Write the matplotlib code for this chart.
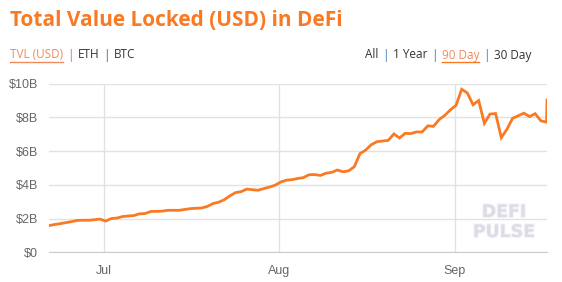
import matplotlib
matplotlib.use("Agg")
import matplotlib.pyplot as plt
import matplotlib.patheffects as pe
from matplotlib.lines import Line2D
import pandas as pd

# ---- data ----
tvl_billions = [
    1.58, 1.65, 1.70, 1.76, 1.82, 1.89, 1.90, 1.90, 1.93, 1.97,
    1.85, 2.00, 2.03, 2.12, 2.15, 2.18, 2.28, 2.30, 2.42, 2.43,
    2.44, 2.49, 2.49, 2.49, 2.54, 2.59, 2.61, 2.63, 2.72, 2.89,
    2.97, 3.12, 3.35, 3.54, 3.60, 3.75, 3.71, 3.68, 3.78, 3.87,
    3.98, 4.17, 4.28, 4.31, 4.38, 4.43, 4.60, 4.61, 4.56, 4.69,
    4.74, 4.88, 4.78, 4.83, 5.08, 5.85, 6.06, 6.38, 6.56, 6.60,
    6.64, 7.02, 6.78, 7.06, 7.04, 7.14, 7.14, 7.50, 7.47, 7.87,
    8.12, 8.45, 8.72, 9.67, 9.45, 8.75, 9.00, 7.65, 8.20, 8.23,
    6.80, 7.30, 7.95, 8.10, 8.25, 8.05, 8.22, 7.80, 7.72, 9.03,
]
dates = list(pd.date_range("2020-06-21 06:00", periods=89, freq="D")) + [pd.Timestamp("2020-09-17 08:00")]

y_ticks = [0, 2, 4, 6, 8, 10]
y_tick_labels = ["$0", "$2B", "$4B", "$6B", "$8B", "$10B"]
x_ticks = ["2020-07-01", "2020-08-01", "2020-09-01"]
x_tick_labels = ["Jul", "Aug", "Sep"]

title = "Total Value Locked (USD) in DeFi"
left_nav = ["TVL (USD)", "ETH", "BTC"]
right_nav = ["All", "1 Year", "90 Day", "30 Day"]

ORANGE = "#F97A22"
W, H = 562, 282

fig = plt.figure(figsize=(W / 100, H / 100), dpi=100)
fig.patch.set_facecolor("white")
ax = fig.add_axes([49 / W, 1 - 252.3 / H, (547 - 49) / W, (252.3 - 83.7) / H])

ax.plot(pd.to_datetime(dates), tvl_billions, color=ORANGE, lw=2.0, solid_joinstyle="miter", zorder=3)
ax.set_ylim(0, 10)
ax.set_xlim(pd.Timestamp(dates[0]), pd.Timestamp(dates[-1]))
ax.set_yticks(y_ticks)
ax.set_yticklabels(y_tick_labels)
ax.set_xticks(pd.to_datetime(x_ticks))
ax.set_xticklabels(x_tick_labels)
ax.grid(True, color="#e2e2e2", lw=1)
ax.set_axisbelow(True)
for s in ["top", "right", "left"]:
    ax.spines[s].set_visible(False)
ax.spines["bottom"].set_color("#cccccc")
ax.tick_params(length=0, labelsize=9, labelcolor="#666666", pad=8)
for lab in ax.get_xticklabels() + ax.get_yticklabels():
    lab.set_fontfamily("Liberation Sans")
ax.tick_params(axis="x", pad=9)

# watermark
for txt, yy in [("DEFI", 212), ("PULSE", 232)]:
    fig.text(504 / W, 1 - yy / H, txt, ha="center", va="center", fontsize=12.5,
             fontweight="bold", family="DejaVu Sans", color="#dcdce6",
             path_effects=[pe.withStroke(linewidth=1.5, foreground="#f4f4f8")], zorder=5)

# title
fig.text(10 / W, 1 - 21 / H, title, ha="left", va="center", fontsize=15,
         fontweight="bold", family="Open Sans", color=ORANGE)

fig.canvas.draw()
renderer = fig.canvas.get_renderer()

def underline(t, color):
    bb = t.get_window_extent(renderer)
    y = bb.y0 - 0.5
    fig.add_artist(Line2D([bb.x0 / W, bb.x1 / W], [y / H, y / H], color=color, lw=1,
                          transform=fig.transFigure))

fs = 8.5
gap = 4
yc = 1 - 55 / H

# left nav
x = 10
for i, name in enumerate(left_nav):
    col = "#f08a5d" if i == 0 else "#333333"
    t = fig.text(x / W, yc, name, ha="left", va="center", fontsize=fs, family="Open Sans", color=col)
    fig.canvas.draw()
    bb = t.get_window_extent(renderer)
    if i == 0:
        underline(t, "#f08a5d")
    x = bb.x1 + gap
    if i < len(left_nav) - 1:
        sepcol = "#c0704a" if i == 0 else "#8a2a8a"
        s = fig.text(x / W, yc, "|", ha="left", va="center", fontsize=fs, family="Open Sans", color=sepcol)
        fig.canvas.draw()
        x = s.get_window_extent(renderer).x1 + gap

# right nav
x = 365
for i, name in enumerate(right_nav):
    col = "#f08a5d" if name == "90 Day" else "#333333"
    t = fig.text(x / W, yc, name, ha="left", va="center", fontsize=fs, family="Open Sans", color=col)
    fig.canvas.draw()
    bb = t.get_window_extent(renderer)
    if name == "90 Day":
        underline(t, ORANGE)
    x = bb.x1 + gap
    if i < len(right_nav) - 1:
        s = fig.text(x / W, yc, "|", ha="left", va="center", fontsize=fs, family="Open Sans", color="#2a6fb0")
        fig.canvas.draw()
        x = s.get_window_extent(renderer).x1 + gap

fig.savefig("out.png", dpi=100, facecolor="white")
